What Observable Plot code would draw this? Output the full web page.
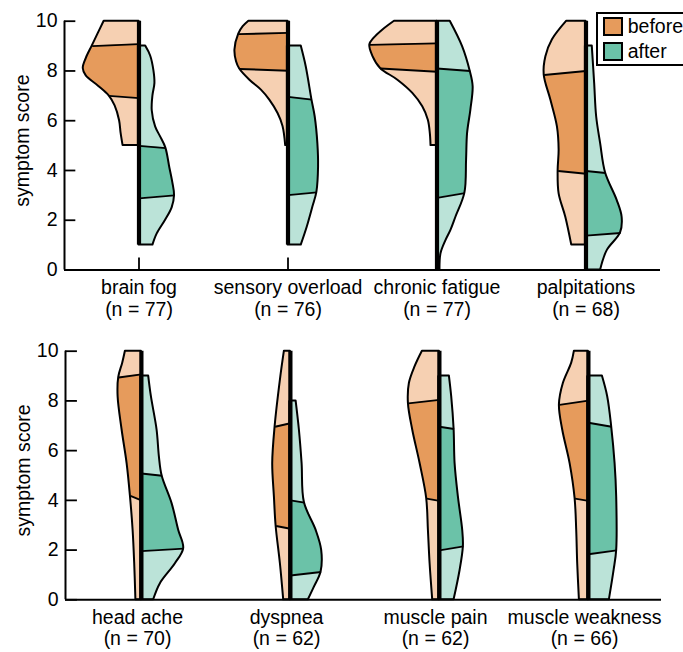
<!DOCTYPE html>
<html>
<head>
<meta charset="utf-8">
<script src="https://cdn.jsdelivr.net/npm/d3@7"></script>
<script src="https://cdn.jsdelivr.net/npm/@observablehq/plot@0.6"></script>
<style>
  body { margin: 0; background: #fff; width: 683px; height: 652px; overflow: hidden; font-family: "Liberation Sans", Arial, sans-serif; }
  #wrap { position: relative; width: 683px; height: 652px; overflow: hidden; }
  #wrap svg { display: block; }
  .lg-box { position: absolute; left: 596px; top: 12px; width: 120px; height: 53.5px; box-sizing: border-box; border: 2px solid #000; background: #fff; }
  .lg-sw { position: absolute; left: 603.3px; width: 19.4px; height: 18.4px; box-sizing: border-box; border: 2px solid #000; }
  .lg-tx { position: absolute; left: 627.7px; font-size: 19.5px; line-height: 19.5px; color: #000; white-space: nowrap; }
</style>
</head>
<body>
<div id="wrap"></div>
<script>
// ---------- data ----------
const groups = ["before", "after"];
const topCategories = ["brain fog", "sensory overload", "chronic fatigue", "palpitations"];
const topCounts = [77, 76, 77, 68];
const bottomCategories = ["head ache", "dyspnea", "muscle pain", "muscle weakness"];
const bottomCounts = [70, 62, 62, 66];
const yTicks = [0, 2, 4, 6, 8, 10];
const yLabel = "symptom score";

// density profiles: [score, density] from top to bottom of each half violin
const brainFogBefore = [[10,35],[9.5,41],[9.0,47],[8.5,53],[8.1,56],[7.8,53],[7.4,41],[7.0,30],[6.6,24],[6.0,19.5],[5.5,18],[5.0,16]];
const brainFogAfter = [[9,6.7],[8.6,11.7],[8.0,15],[7.5,16],[7.0,14],[6.4,13.3],[5.75,16.7],[5.35,21.7],[4.9,27],[4.1,31],[3.5,34],[3.0,35.7],[2.5,33.3],[2.0,26.7],[1.45,18.3],[1.0,14]];
const sensoryBefore = [[10,39.3],[9.78,45],[9.48,49.5],[8.84,53.3],[8.37,51.7],[8.08,48.5],[7.63,38.3],[7.23,26.7],[6.83,18.3],[6.29,10],[5.77,5],[5.0,2.3]];
const sensoryAfter = [[9,13.3],[8.17,18.3],[6.85,24],[6.16,27.3],[5.08,30],[4.14,30.7],[3.12,29],[2.53,25],[1.72,19.3],[1.0,13.3]];
const fatigueBefore = [[10,42.7],[9.65,54.3],[9.31,63.3],[9.05,67.5],[8.58,64.3],[8.1,56.7],[7.63,39.3],[7.1,24.3],[6.56,14.3],[6.02,8.7],[5.48,6.7],[5.0,6]];
const fatigueAfter = [[10,13.3],[8.98,25.7],[8.0,33.3],[7.37,36.3],[6.42,34],[5.48,30.7],[4.41,29.7],[3.09,28],[2.12,19],[1.59,14],[1.18,9],[0.65,4],[0,3]];
const palpBefore = [[10,19.3],[9.25,33.7],[8.57,40.3],[7.84,42],[6.83,35.3],[5.75,28.7],[4.81,27],[3.98,28],[3.06,27],[2.12,20.3],[1.0,14.3]];
const palpAfter = [[9,6.3],[7.5,8.7],[6.16,10.7],[5.08,14.7],[3.9,19.7],[2.8,31.3],[2.12,36.3],[1.49,34.7],[0.78,21.3],[0,14.7]];
const headBefore = [[10,16],[9.52,18.7],[8.94,22.7],[8.17,23.3],[6.83,19.3],[5.48,14.3],[4.18,11],[2.8,8.3],[1.45,6.7],[0,5.5]];
const headAfter = [[9,7.3],[8.17,10],[6.83,15.7],[5.75,18],[4.99,20.7],[3.87,30.7],[2.8,37.3],[2.06,42.3],[1.45,34],[0.65,19],[0,12.3]];
const dyspBefore = [[10,6],[8.84,10],[6.96,15.3],[5.48,17.7],[4.14,16],[2.97,14.3],[1.45,10],[0,6.7]];
const dyspAfter = [[8,5.7],[6.83,9],[5.48,11.7],[3.91,14],[2.8,25.7],[1.99,31.3],[1.12,30.7],[0.51,24],[0,18]];
const painBefore = [[10,17],[9.38,24.3],[8.71,30],[7.9,31],[6.83,26.7],[5.48,19.3],[4.07,12.7],[2.8,11],[1.45,9.3],[0,6.7]];
const painAfter = [[9,10],[8.17,12.3],[6.87,14.7],[5.48,15.7],[4.14,19],[2.8,23.3],[2.15,24],[1.18,20.7],[0,14.7]];
const weakBefore = [[10,14],[9.52,16.7],[8.71,25],[7.84,29],[6.83,25.7],[5.48,18.3],[4.07,13.3],[2.8,11.7],[1.45,10.7],[0,9]];
const weakAfter = [[9,14],[8.17,19.3],[6.96,23.3],[5.48,26.7],[4.14,28.3],[1.99,28.3],[1.18,25.7],[0,21]];

// quartiles: [Q1 at centre, Q1 at outline, Q3 at centre, Q3 at outline]
const brainFogBeforeQ = [6.91, 7.0, 9.08, 9.0];
const brainFogAfterQ = [2.88, 3.0, 4.99, 4.9];
const sensoryBeforeQ = [8.01, 8.08, 9.53, 9.48];
const sensoryAfterQ = [3.01, 3.12, 6.96, 6.85];
const fatigueBeforeQ = [7.97, 8.1, 9.11, 9.05];
const fatigueAfterQ = [2.9, 3.09, 8.1, 8.0];
const palpBeforeQ = [3.87, 3.98, 8.0, 7.84];
const palpAfterQ = [1.38, 1.49, 3.98, 3.9];
const headBeforeQ = [4.0, 4.18, 9.07, 8.94];
const headAfterQ = [1.96, 2.06, 5.08, 4.99];
const dyspBeforeQ = [2.86, 2.97, 7.1, 6.96];
const dyspAfterQ = [0.98, 1.12, 4.0, 3.91];
const painBeforeQ = [3.98, 4.07, 8.04, 7.9];
const painAfterQ = [1.99, 2.15, 6.96, 6.87];
const weakBeforeQ = [3.98, 4.07, 8.01, 7.84];
const weakAfterQ = [1.83, 1.99, 7.12, 6.96];

const colors = {
  before: {dark: "#E69B5C", light: "#F6D0B2"},
  after: {dark: "#6BC2A8", light: "#BBE3D8"}
};

// ---------- build ----------
const FONT = '"Liberation Sans", Arial, sans-serif';
const FS = 19.5;

function widthAt(prof, s) {
  const hit = prof.find(p => Math.abs(p[0] - s) < 1e-9);
  if (hit) return hit[1];
  for (let i = 0; i < prof.length - 1; i++) {
    const [s0, w0] = prof[i], [s1, w1] = prof[i + 1];
    if ((s <= s0 && s >= s1)) return w0 + (w1 - w0) * (s - s0) / (s1 - s0);
  }
  return prof[prof.length - 1][1];
}

function buildRow(cats, counts, profiles, quarts, cfg) {
  const W = 683;
  const frameW = (W - cfg.marginLeft - cfg.marginRight) / cats.length;
  const half = frameW / 2;
  const frameH = cfg.height - cfg.marginTop - cfg.marginBottom;
  const marks = [];

  // x-axis ticks at category positions (drawn under the violins)
  marks.push(Plot.tickX(cats, {fx: d => d, x: () => 0, insetTop: frameH - 12, stroke: "#000", strokeWidth: 1.8}));

  for (const g of groups) {
    const sign = g === "before" ? -1 : 1;
    const outline = [], iqr = [], qlines = [], spans = [];
    cats.forEach((cat, i) => {
      const prof = profiles[i][g];
      const [q1c, q1e, q3c, q3e] = quarts[i][g];
      prof.forEach(([s, w]) => outline.push({cat, s, w}));
      prof.filter(([s]) => s >= q1e - 1e-9 && s <= q3e + 1e-9)
        .forEach(([s, w]) => iqr.push({cat, s, w, c: q3c + (s - q3e) * (q1c - q3c) / (q1e - q3e)}));
      qlines.push({cat, yc: q1c, ye: q1e, w: widthAt(prof, q1e)});
      qlines.push({cat, yc: q3c, ye: q3e, w: widthAt(prof, q3e)});
      spans.push({cat, top: prof[0][0], bottom: prof[prof.length - 1][0]});
    });
    marks.push(
      Plot.areaX(outline, {fx: "cat", y: "s", x1: () => 0, x2: d => sign * d.w, fill: colors[g].light, curve: "catmull-rom"}),
      Plot.area(iqr, {fx: "cat", x1: () => 0, y1: "c", x2: d => sign * d.w, y2: "s", fill: colors[g].dark, curve: "catmull-rom"}),
      Plot.areaX(outline, {fx: "cat", y: "s", x1: () => 0, x2: d => sign * d.w, fill: "none", stroke: "#000", strokeWidth: 2, strokeLinejoin: "round", curve: "catmull-rom"}),
      Plot.link(qlines, {fx: "cat", x1: () => 0, y1: "yc", x2: d => sign * d.w, y2: "ye", stroke: "#000", strokeWidth: 1.9}),
      Plot.ruleX(spans, {fx: "cat", x: () => 0, y1: "top", y2: "bottom", stroke: "#000", strokeWidth: 4.2})
    );
  }

  // axes
  marks.push(
    Plot.ruleY([0], {stroke: "#000", strokeWidth: 2}),
    Plot.ruleX([cats[0]], {fx: d => d, x: () => -half - cfg.shift, stroke: "#000", strokeWidth: 2}),
    Plot.tickY(yTicks.map(t => ({t, fx: cats[0]})), {fx: "fx", y: "t", insetRight: frameW - 12, stroke: "#000", strokeWidth: 1.8}),
    Plot.axisY({ticks: yTicks, tickSize: 0, tickPadding: 7, label: null, fontSize: FS}),
    Plot.text([yLabel], {fx: () => cats[0], text: d => d, frameAnchor: "left", rotate: -90, dx: -41.5, dy: -5, textAnchor: "middle", lineAnchor: "middle", fontSize: FS, fill: "#000"}),
    Plot.axisFx({anchor: "bottom", tickSize: 0, tickPadding: 9, label: null, fontSize: FS, lineHeight: 1.1, dx: cfg.labelDx,
      tickFormat: c => `${c}\n(n = ${counts[cats.indexOf(c)]})`})
  );

  return Plot.plot({
    width: W,
    height: cfg.height,
    marginLeft: cfg.marginLeft,
    marginRight: cfg.marginRight,
    marginTop: cfg.marginTop,
    marginBottom: cfg.marginBottom,
    style: {fontFamily: FONT, fontSize: FS + "px", color: "#000", background: "#fff", overflow: "visible"},
    fx: {domain: cats, padding: 0},
    x: {domain: [-half - cfg.shift, half - cfg.shift], axis: null},
    y: {domain: [0, 10]},
    marks
  });
}

const topProfiles = [
  {before: brainFogBefore, after: brainFogAfter},
  {before: sensoryBefore, after: sensoryAfter},
  {before: fatigueBefore, after: fatigueAfter},
  {before: palpBefore, after: palpAfter}
];
const topQuarts = [
  {before: brainFogBeforeQ, after: brainFogAfterQ},
  {before: sensoryBeforeQ, after: sensoryAfterQ},
  {before: fatigueBeforeQ, after: fatigueAfterQ},
  {before: palpBeforeQ, after: palpAfterQ}
];
const bottomProfiles = [
  {before: headBefore, after: headAfter},
  {before: dyspBefore, after: dyspAfter},
  {before: painBefore, after: painAfter},
  {before: weakBefore, after: weakAfter}
];
const bottomQuarts = [
  {before: headBeforeQ, after: headAfterQ},
  {before: dyspBeforeQ, after: dyspAfterQ},
  {before: painBeforeQ, after: painAfterQ},
  {before: weakBeforeQ, after: weakAfterQ}
];

const wrap = document.getElementById("wrap");
wrap.append(buildRow(topCategories, topCounts, topProfiles, topQuarts,
  {height: 330, marginLeft: 62.3, marginRight: 22, marginTop: 20.7, marginBottom: 60.5, shift: 0, labelDx: 0}));
wrap.append(buildRow(bottomCategories, bottomCounts, bottomProfiles, bottomQuarts,
  {height: 322, marginLeft: 64.7, marginRight: 22, marginTop: 20.7, marginBottom: 52.7, shift: 1.4, labelDx: -2.5}));

// legend
const lg = document.createElement("div");
lg.innerHTML = `<div class="lg-box"></div>
  <div class="lg-sw" style="top:17.3px;background:${colors.before.dark}"></div>
  <div class="lg-tx" style="top:16.8px">${groups[0]}</div>
  <div class="lg-sw" style="top:42.3px;background:${colors.after.dark}"></div>
  <div class="lg-tx" style="top:41.8px">${groups[1]}</div>`;
wrap.append(lg);
</script>
</body>
</html>
